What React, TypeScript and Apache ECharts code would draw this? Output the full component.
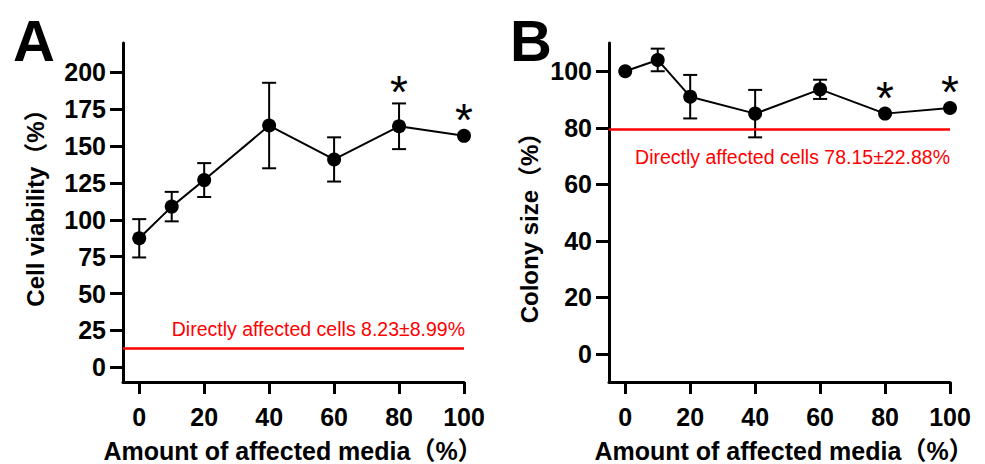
import React, { useEffect, useRef } from "react";
import * as echarts from "echarts";

// ---- data ----
const xValues = [0, 10, 20, 40, 60, 80, 100];
const viabilityMean = [87.5, 109, 127, 164, 141, 163.5, 157];
const viabilityErr = [13, 10, 11.5, 29, 15, 15.5, 0];
const colonyMean = [100, 104, 91, 85, 93.6, 85, 87];
const colonyErr = [0, 4, 7.7, 8.4, 3.4, 0, 0];
const starredX = [80, 100];
const directA = 12.7;
const directB = 79.5;
const directLabelA = "Directly affected cells 8.23±8.99%";
const directLabelB = "Directly affected cells 78.15±22.88%";
const xTicks = [0, 20, 40, 60, 80, 100];
const yTicksA = [0, 25, 50, 75, 100, 125, 150, 175, 200];
const yTicksB = [0, 20, 40, 60, 80, 100];

const FONT = '"Liberation Sans", Arial, Helvetica, sans-serif';
const TITLE_FONT = '"Liberation Sans", Arial, "Noto Sans CJK JP", sans-serif';

function xAxisOpt(gridIndex: number) {
  return {
    type: "value",
    gridIndex,
    min: -5,
    max: 100,
    axisLine: { show: true, onZero: false, lineStyle: { color: "#000", width: 3 } },
    axisTick: { show: true, length: 12, lineStyle: { color: "#000", width: 3 }, customValues: xTicks },
    axisLabel: { customValues: xTicks, margin: 22, color: "#000", fontSize: 25, fontWeight: "bold", fontFamily: FONT },
    splitLine: { show: false },
  };
}

function yAxisOpt(gridIndex: number, min: number, max: number, ticks: number[]) {
  return {
    type: "value",
    gridIndex,
    min,
    max,
    axisLine: { show: true, onZero: false, lineStyle: { color: "#000", width: 3 } },
    axisTick: { show: true, length: 13, lineStyle: { color: "#000", width: 3 }, customValues: ticks },
    axisLabel: { customValues: ticks, margin: 17, color: "#000", fontSize: 25, fontWeight: "bold", fontFamily: FONT },
    splitLine: { show: false },
  };
}

function errorSeries(idx: number, mean: number[], err: number[]) {
  return {
    type: "custom",
    xAxisIndex: idx,
    yAxisIndex: idx,
    data: xValues.map((x, i) => [x, mean[i], err[i]]),
    encode: { x: 0, y: 1 },
    z: 2,
    silent: true,
    renderItem: (params: any, api: any) => {
      const x = api.value(0);
      const m = api.value(1);
      const e = api.value(2);
      if (!e) return { type: "group", children: [] };
      const top = api.coord([x, m + e]);
      const bot = api.coord([x, m - e]);
      const half = 7;
      const st = { stroke: "#000", lineWidth: 2 };
      return {
        type: "group",
        children: [
          { type: "line", shape: { x1: top[0], y1: top[1], x2: bot[0], y2: bot[1] }, style: st },
          { type: "line", shape: { x1: top[0] - half, y1: top[1], x2: top[0] + half, y2: top[1] }, style: st },
          { type: "line", shape: { x1: bot[0] - half, y1: bot[1], x2: bot[0] + half, y2: bot[1] }, style: st },
        ],
      };
    },
  };
}

function starSeries(idx: number, mean: number[], err: number[]) {
  const data = starredX.map((sx) => {
    const i = xValues.indexOf(sx);
    return [sx, mean[i] + err[i], err[i]];
  });
  return {
    type: "custom",
    xAxisIndex: idx,
    yAxisIndex: idx,
    data,
    encode: { x: 0, y: 1 },
    z: 4,
    silent: true,
    renderItem: (params: any, api: any) => {
      const c = api.coord([api.value(0), api.value(1)]);
      const off = api.value(2) ? 11 : 16;
      return {
        type: "text",
        x: c[0],
        y: c[1] - off,
        style: {
          text: "*",
          fill: "#000",
          font: `normal 46px ${FONT}`,
          align: "center",
          verticalAlign: "middle",
          textAlign: "center",
          textVerticalAlign: "middle",
        },
      };
    },
  };
}

function lineSeries(idx: number, mean: number[], direct: number, label: string, pos: string, dist: number[]) {
  return {
    type: "line",
    xAxisIndex: idx,
    yAxisIndex: idx,
    data: xValues.map((x, i) => [x, mean[i]]),
    symbol: "circle",
    symbolSize: 14,
    lineStyle: { color: "#000", width: 2 },
    itemStyle: { color: "#000" },
    z: 3,
    markLine: {
      silent: true,
      symbol: ["none", "none"],
      lineStyle: { color: "#ff0000", width: 2.5, type: "solid" },
      label: {
        show: true,
        position: pos,
        formatter: label,
        color: "#ff0000",
        fontSize: 19.5,
        fontFamily: FONT,
        distance: dist,
      },
      data: [{ yAxis: direct }],
    },
  };
}

function textEl(text: string, x: number, y: number, font: string, rotation = 0) {
  return {
    type: "text",
    x,
    y,
    rotation,
    style: {
      text,
      fill: "#000",
      font,
      align: "center",
      verticalAlign: "middle",
      textAlign: "center",
      textVerticalAlign: "middle",
    },
  };
}

export default function App() {
  const ref = useRef<HTMLDivElement>(null);
  useEffect(() => {
    document.body.style.margin = "0";
    const chart = echarts.init(ref.current as HTMLDivElement, null, { renderer: "svg" });
    chart.setOption({
      animation: false,
      backgroundColor: "#fff",
      grid: [
        { left: 123, top: 43, width: 341, height: 339 },
        { left: 609, top: 43, width: 341, height: 339 },
      ],
      xAxis: [xAxisOpt(0), xAxisOpt(1)],
      yAxis: [yAxisOpt(0, -10, 220, yTicksA), yAxisOpt(1, -10, 110, yTicksB)],
      series: [
        errorSeries(0, viabilityMean, viabilityErr),
        lineSeries(0, viabilityMean, directA, directLabelA, "insideEndTop", [-1, 10]),
        starSeries(0, viabilityMean, viabilityErr),
        errorSeries(1, colonyMean, colonyErr),
        lineSeries(1, colonyMean, directB, directLabelB, "insideEndBottom", [0, 18]),
        starSeries(1, colonyMean, colonyErr),
      ],
      graphic: [
        textEl("A", 34, 40, `bold 58px ${FONT}`),
        textEl("B", 531, 40, `bold 58px ${FONT}`),
        textEl("Cell viability（%）", 35, 202, `bold 24px ${TITLE_FONT}`, Math.PI / 2),
        textEl("Colony size（%）", 529, 222, `bold 24px ${TITLE_FONT}`, Math.PI / 2),
        textEl("Amount of affected media（%）", 293, 451, `bold 25px ${TITLE_FONT}`),
        textEl("Amount of affected media（%）", 784, 451, `bold 25px ${TITLE_FONT}`),
      ],
    });
    return () => chart.dispose();
  }, []);
  return <div ref={ref} style={{ width: 985, height: 464 }} />;
}
